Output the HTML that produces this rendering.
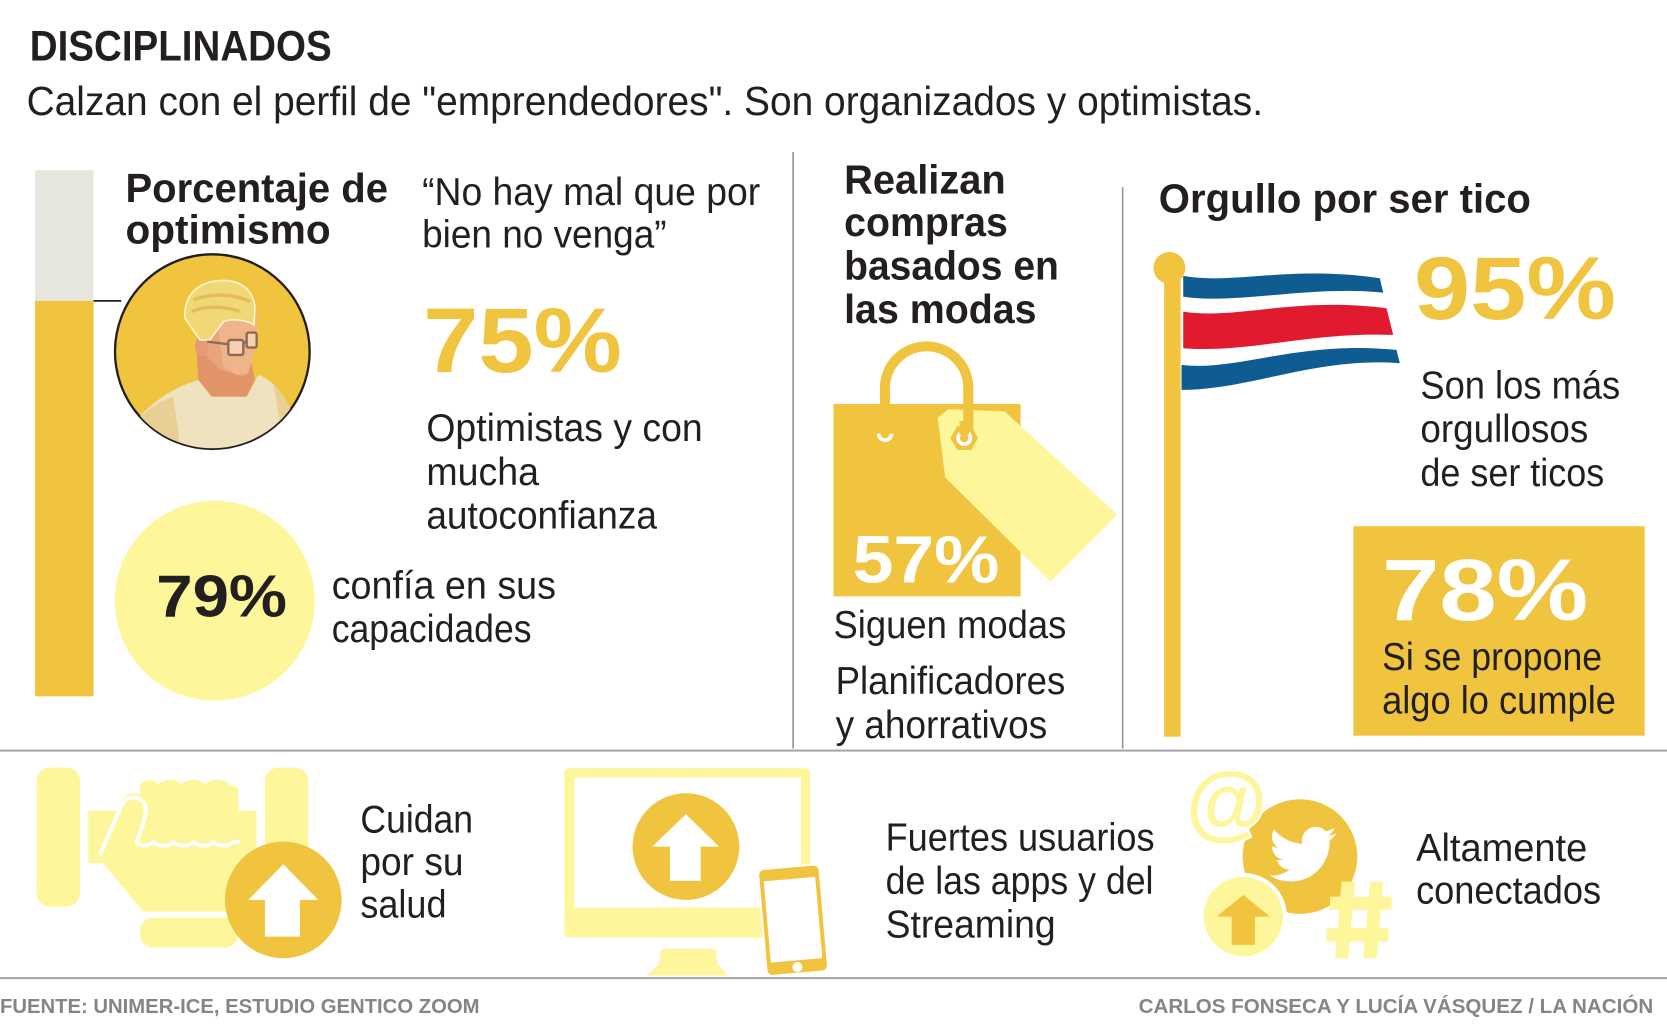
<!DOCTYPE html>
<html><head><meta charset="utf-8"><style>
html,body{margin:0;padding:0;background:#fff;}
svg{display:block;}
.b{font-family:"Liberation Sans",sans-serif;font-weight:bold;fill:#231f20;}
.r{font-family:"Liberation Sans",sans-serif;fill:#231f20;}
</style></head><body>
<svg width="1667" height="1025" viewBox="0 0 1568 964.14" preserveAspectRatio="none" xmlns="http://www.w3.org/2000/svg">
<rect x="0" y="0" width="1568" height="965" fill="#fff"/>

<!-- Header -->
<text class="b" x="28" y="57" font-size="40" textLength="284" lengthAdjust="spacingAndGlyphs">DISCIPLINADOS</text>
<text class="r" x="25" y="108" font-size="38" textLength="1163" lengthAdjust="spacingAndGlyphs">Calzan con el perfil de "emprendedores". Son organizados y optimistas.</text>

<!-- dividers -->
<line x1="746" y1="143" x2="746" y2="704" stroke="#9a9a9a" stroke-width="1.6"/>
<line x1="1056" y1="176" x2="1056" y2="704" stroke="#9a9a9a" stroke-width="1.6"/>
<line x1="0" y1="706" x2="1568" y2="706" stroke="#a8a8a8" stroke-width="2"/>
<line x1="0" y1="920" x2="1568" y2="920" stroke="#a8a8a8" stroke-width="2"/>

<!-- Left column -->
<rect x="33" y="160" width="55" height="123" fill="#e6e6df"/>
<rect x="33" y="283" width="55" height="372" fill="#f0c43f"/>
<line x1="88" y1="283" x2="114" y2="283" stroke="#231f20" stroke-width="1.6"/>

<text class="b" x="118" y="190" font-size="38" textLength="247" lengthAdjust="spacingAndGlyphs">Porcentaje de</text>
<text class="b" x="118" y="229" font-size="38" textLength="193" lengthAdjust="spacingAndGlyphs">optimismo</text>

<!-- portrait -->
<defs><clipPath id="pc"><circle cx="337" cy="335" r="290"/></clipPath></defs>
<g transform="translate(94.06,225.7) scale(0.3135)">
  <circle cx="337" cy="335" r="292" fill="#f0c43f" stroke="#231f20" stroke-width="7"/>
  <g clip-path="url(#pc)">
    <path d="M110,540 C170,470 250,430 300,420 L340,470 L440,470 L475,405 C520,420 560,470 585,540 L600,660 L100,660 Z" fill="#efe3bf"/>
    <path d="M110,540 C150,500 190,480 220,470 L245,650 L150,650 Z" fill="#e8d095"/>
    <path d="M520,430 C550,460 570,500 585,540 L600,660 L560,660 Z" fill="#e8d095"/>
    <path d="M290,330 L445,330 L465,420 L440,470 L335,470 L295,420 Z" fill="#e09468"/>
    <path d="M262,200 L300,330 L360,390 L430,410 L445,400 L470,290 L470,210 Z" fill="#e9a47c"/>
    <path d="M350,230 L470,220 L472,300 L445,400 L410,405 L370,380 Z" fill="#f0b48c"/>
    <ellipse cx="305" cy="318" rx="20" ry="32" fill="#e59c74"/>
    <path d="M255,235 C250,160 300,125 360,122 C420,118 462,150 465,205 L462,255 C440,240 400,235 370,245 L330,300 L300,300 Z" fill="#f2d777" stroke="#fff4c8" stroke-width="5"/>
    <path d="M280,180 C330,160 400,160 450,185 M275,215 C320,195 380,200 420,215" stroke="#e3bd55" stroke-width="10" fill="none"/>
    <line x1="322" y1="305" x2="385" y2="313" stroke="#8a6a50" stroke-width="7"/>
    <rect x="385" y="300" width="45" height="45" rx="6" fill="#f6d0b0" stroke="#8a6a50" stroke-width="7"/>
    <rect x="440" y="278" width="30" height="45" rx="6" fill="#f6d0b0" stroke="#8a6a50" stroke-width="7"/>
    <line x1="430" y1="310" x2="440" y2="305" stroke="#8a6a50" stroke-width="7"/>
  </g>
</g>

<text class="r" x="397" y="193" font-size="37" textLength="318" lengthAdjust="spacingAndGlyphs">“No hay mal que por</text>
<text class="r" x="397" y="233" font-size="37" textLength="230" lengthAdjust="spacingAndGlyphs">bien no venga”</text>
<text class="b" x="398" y="350" font-size="86" fill="#f0c43f" style="fill:#f0c43f" textLength="187" lengthAdjust="spacingAndGlyphs">75%</text>
<text class="r" x="401" y="415" font-size="37" textLength="260" lengthAdjust="spacingAndGlyphs">Optimistas y con</text>
<text class="r" x="401" y="456" font-size="37" textLength="106" lengthAdjust="spacingAndGlyphs">mucha</text>
<text class="r" x="401" y="497" font-size="37" textLength="217" lengthAdjust="spacingAndGlyphs">autoconfianza</text>

<circle cx="202" cy="565" r="94" fill="#fef69b"/>
<text class="b" x="147" y="580" font-size="56" textLength="123" lengthAdjust="spacingAndGlyphs">79%</text>
<text class="r" x="312" y="563" font-size="37" textLength="211" lengthAdjust="spacingAndGlyphs">confía en sus</text>
<text class="r" x="312" y="604" font-size="37" textLength="188" lengthAdjust="spacingAndGlyphs">capacidades</text>

<!-- Middle column -->
<text class="b" x="794" y="182" font-size="38" textLength="152" lengthAdjust="spacingAndGlyphs">Realizan</text>
<text class="b" x="794" y="222" font-size="38" textLength="154" lengthAdjust="spacingAndGlyphs">compras</text>
<text class="b" x="794" y="263" font-size="38" textLength="202" lengthAdjust="spacingAndGlyphs">basados en</text>
<text class="b" x="794" y="304" font-size="38" textLength="181" lengthAdjust="spacingAndGlyphs">las modas</text>

<rect x="784" y="380" width="176" height="181" fill="#f0c43f"/>
<polygon points="882,393 892,385 945,387 1051,484 988,547 889,449" fill="#fef69b"/>
<path d="M832.4,381 L832.4,365 A39.2 39.2 0 0 1 910.8,365 L910.8,412" stroke="#f0c43f" stroke-width="9.5" fill="none"/>
<path d="M826.5,408 A6 6 0 0 0 838.5,408" stroke="#fff" stroke-width="3.5" fill="none"/>
<polygon points="920,412 913.5,423.3 900.5,423.3 894,412 900.5,400.7 913.5,400.7" fill="#f0c43f"/>
<circle cx="907" cy="412" r="7.5" fill="#fff"/>
<circle cx="907" cy="412" r="4" fill="#f0c43f"/>
<rect x="902.5" y="396" width="9" height="13" fill="#f0c43f"/>
<text class="b" x="802" y="548" font-size="63" style="fill:#fff" textLength="138" lengthAdjust="spacingAndGlyphs">57%</text>

<text class="r" x="784" y="600" font-size="37" textLength="219" lengthAdjust="spacingAndGlyphs">Siguen modas</text>
<text class="r" x="786" y="653" font-size="37" textLength="216" lengthAdjust="spacingAndGlyphs">Planificadores</text>
<text class="r" x="786" y="694" font-size="37" textLength="199" lengthAdjust="spacingAndGlyphs">y ahorrativos</text>

<!-- Right column -->
<text class="b" x="1090" y="200" font-size="38" textLength="350" lengthAdjust="spacingAndGlyphs">Orgullo por ser tico</text>
<rect x="1095" y="252" width="15.5" height="441" fill="#f0c43f"/>
<circle cx="1100" cy="252" r="15" fill="#f0c43f"/>
<g transform="translate(1081.6,235.1) scale(0.3135)">
  <path d="M100,78 C250,105 420,45 690,85 L700,128 C480,105 260,165 100,140 Z" fill="#0e5c92"/>
  <path d="M100,185 C260,210 430,140 710,175 L730,255 C480,245 300,310 100,295 Z" fill="#e21a2f"/>
  <path d="M95,345 C260,365 450,270 740,300 L750,340 C500,320 300,420 95,420 Z" fill="#0e5c92"/>
</g>
<text class="b" x="1330" y="300" font-size="84" style="fill:#f0c43f" textLength="190" lengthAdjust="spacingAndGlyphs">95%</text>
<text class="r" x="1336" y="375" font-size="37" textLength="188" lengthAdjust="spacingAndGlyphs">Son los más</text>
<text class="r" x="1336" y="416" font-size="37" textLength="158" lengthAdjust="spacingAndGlyphs">orgullosos</text>
<text class="r" x="1336" y="457" font-size="37" textLength="173" lengthAdjust="spacingAndGlyphs">de ser ticos</text>

<rect x="1273" y="495" width="274" height="197" fill="#f0c43f"/>
<text class="b" x="1300" y="583" font-size="82" style="fill:#fff" textLength="194" lengthAdjust="spacingAndGlyphs">78%</text>
<text class="r" x="1300" y="630" font-size="37" textLength="207" lengthAdjust="spacingAndGlyphs">Si se propone</text>
<text class="r" x="1300" y="671" font-size="37" textLength="220" lengthAdjust="spacingAndGlyphs">algo lo cumple</text>

<!-- Bottom: hand / dumbbell -->
<g transform="translate(23.51,710.1) scale(0.3135)">
  <rect x="35" y="38" width="130" height="417" rx="40" fill="#fef69b"/>
  <rect x="720" y="38" width="130" height="417" rx="40" fill="#fef69b"/>
  <rect x="190" y="168" width="505" height="157" fill="#fef69b"/>
  <path d="M230,320 L290,140 C300,115 330,110 345,120 L345,95 C350,70 390,70 400,90 C410,70 460,70 470,90 C480,70 530,70 540,90 C550,70 600,70 615,90 L640,100 L645,420 L600,470 L355,470 Z" fill="#fef69b"/>
  <path d="M225,300 L290,150 C305,120 345,120 360,150 C370,180 345,230 335,260 C345,275 370,275 385,262 C400,275 430,275 445,262 C460,275 490,275 505,262 C520,275 550,275 565,262 C580,275 610,275 625,262 L645,260" stroke="#fff" stroke-width="12" fill="none"/>
  <rect x="345" y="488" width="295" height="90" rx="40" fill="#fef69b"/>
  <circle cx="775" cy="435" r="175" fill="#f0c43f"/>
  <polygon points="775,328 880,435 825,435 825,545 720,545 720,435 670,435" fill="#fff"/>
</g>
<text class="r" x="339" y="783" font-size="37" textLength="106" lengthAdjust="spacingAndGlyphs">Cuidan</text>
<text class="r" x="339" y="823" font-size="37" textLength="97" lengthAdjust="spacingAndGlyphs">por su</text>
<text class="r" x="339" y="863" font-size="37" textLength="81" lengthAdjust="spacingAndGlyphs">salud</text>

<!-- monitor -->
<g transform="translate(522.0,710.1) scale(0.3135)">
  <rect x="28" y="40" width="737" height="508" rx="14" fill="#fef69b"/>
  <rect x="58" y="68" width="680" height="390" fill="#fff"/>
  <polygon points="318,582 482,582 488,628 520,662 275,662 312,628" fill="#fef69b"/>
  <circle cx="393" cy="275" r="160" fill="#f0c43f"/>
  <polygon points="393,178 492,275 437,275 437,378 345,378 345,275 292,275" fill="#fff"/>
  <g transform="rotate(-5 715 497)">
    <rect x="622" y="335" width="185" height="322" rx="18" fill="#f0c43f" stroke="#fff" stroke-width="6"/>
    <rect x="637" y="372" width="155" height="245" fill="#fff"/>
    <circle cx="715" cy="637" r="15" fill="#fff"/>
  </g>
</g>
<text class="r" x="833" y="800" font-size="37" textLength="253" lengthAdjust="spacingAndGlyphs">Fuertes usuarios</text>
<text class="r" x="833" y="841" font-size="37" textLength="252" lengthAdjust="spacingAndGlyphs">de las apps y del</text>
<text class="r" x="833" y="882" font-size="37" textLength="160" lengthAdjust="spacingAndGlyphs">Streaming</text>

<!-- social -->
<g transform="translate(1109.9,714.8) scale(0.3135)">
  <circle cx="360" cy="290" r="172" fill="#f0c43f"/>
  <path transform="translate(268,182) scale(8.4)" fill="#fff" d="M23.953 4.57a10 10 0 01-2.825.775 4.958 4.958 0 002.163-2.723c-.951.555-2.005.959-3.127 1.184a4.92 4.92 0 00-8.384 4.482C7.69 8.095 4.067 6.13 1.64 3.162a4.822 4.822 0 00-.666 2.475c0 1.71.87 3.213 2.188 4.096a4.904 4.904 0 01-2.228-.616v.06a4.923 4.923 0 003.946 4.827 4.996 4.996 0 01-2.212.085 4.936 4.936 0 004.604 3.417 9.867 9.867 0 01-6.102 2.105c-.39 0-.779-.023-1.17-.067a13.995 13.995 0 007.557 2.209c9.053 0 13.998-7.496 13.998-13.985 0-.21 0-.42-.015-.63A9.935 9.935 0 0024 4.59z"/>
  <text x="140" y="212" font-size="250" font-family="Liberation Sans, sans-serif" font-weight="bold" text-anchor="middle" fill="#fef69b" stroke="#fff" stroke-width="12" paint-order="stroke">@</text>
  <circle cx="190" cy="470" r="125" fill="#fef69b" stroke="#fff" stroke-width="12"/>
  <polygon points="190,405 270,470 225,470 225,555 155,555 155,470 110,470" fill="#f0c43f"/>
  <polygon points="485,365 525,365 505,595 465,595" fill="#fef69b"/>
  <polygon points="570,365 610,365 590,595 550,595" fill="#fef69b"/>
  <rect x="450" y="410" width="185" height="40" fill="#fef69b"/>
  <rect x="440" y="505" width="185" height="40" fill="#fef69b"/>
</g>
<text class="r" x="1332" y="810" font-size="37" textLength="161" lengthAdjust="spacingAndGlyphs">Altamente</text>
<text class="r" x="1332" y="850" font-size="37" textLength="174" lengthAdjust="spacingAndGlyphs">conectados</text>

<!-- Footer -->
<text class="b" x="0" y="953" font-size="19.5" style="fill:#858585" textLength="451" lengthAdjust="spacingAndGlyphs">FUENTE: UNIMER-ICE, ESTUDIO GENTICO ZOOM</text>
<text class="b" x="1071" y="953" font-size="19.5" style="fill:#858585" textLength="484" lengthAdjust="spacingAndGlyphs">CARLOS FONSECA Y LUCÍA VÁSQUEZ  / LA NACIÓN</text>
</svg>
</body></html>
